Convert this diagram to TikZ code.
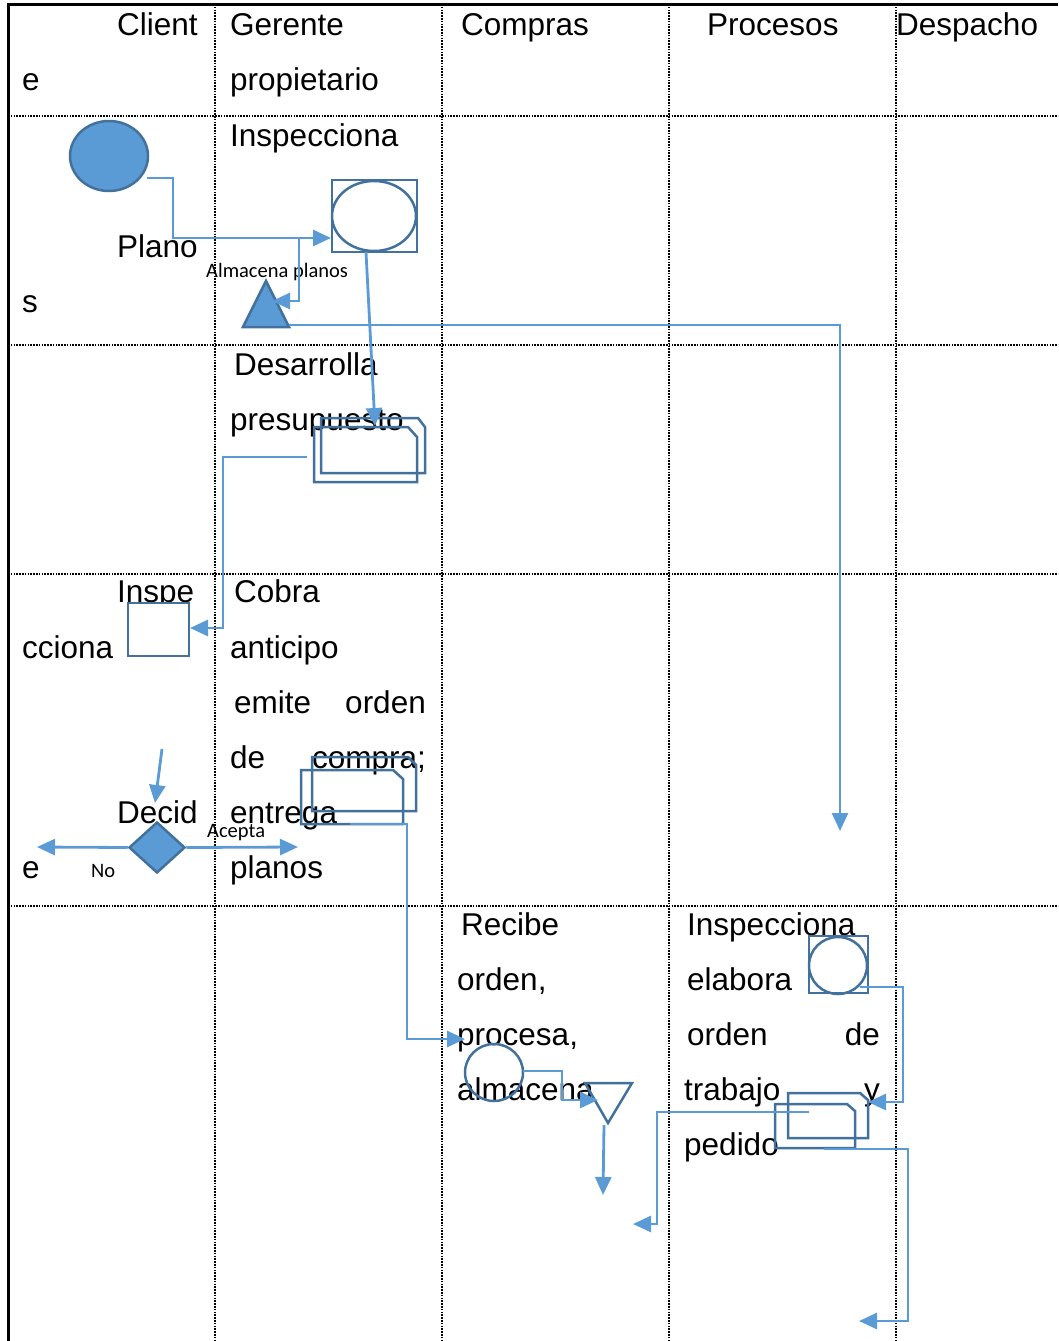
\documentclass[tikz,border=0pt]{standalone}
\usepackage{fontspec}
\setmainfont{Liberation Sans}
\newfontfamily\tagfont{Carlito}
\usetikzlibrary{arrows.meta,shapes.geometric}

\definecolor{flowblue}{HTML}{5B9BD5}
\definecolor{edgeblue}{HTML}{41719C}

\begin{document}
\begin{tikzpicture}[x=1pt,y=-1pt,
  lane/.style={line width=1.8pt, dash pattern=on 1.6pt off 1.2pt},
  frame/.style={line width=3pt},
  lbl/.style={anchor=base west, inner sep=0pt, font=\fontsize{31.5}{36}\selectfont},
  lblr/.style={anchor=base east, inner sep=0pt, font=\fontsize{31.5}{36}\selectfont},
  tag/.style={anchor=base west, inner sep=0pt, font=\tagfont\fontsize{20.5}{24}\selectfont},
  flow/.style={draw=flowblue, line width=2.8pt},
  arr/.style={flow, -{Triangle[length=18pt 0 0,width=16pt 0 0]}},
  shp/.style={draw=edgeblue, line width=2.5pt},
  shpfill/.style={shp, fill=flowblue},
]
\useasboundingbox (0,0) rectangle (1058,1341);

% swimlane grid
\foreach \x in {215,442,669,896} \draw[lane] (\x,4) -- (\x,1341);
\foreach \y in {116,345,574,906} \draw[lane] (8,\y) -- (1058,\y);
\draw[frame] (8,1341) -- (8,4) -- (1058,4);

% lane headers
\node[lbl] (hcli1) at (117,35) {Client};
\node[lbl] (hcli2) at (22,90) {e};
\node[lbl] (hger1) at (230,35) {Gerente};
\node[lbl] (hger2) at (230,90) {propietario};
\node[lbl] (hcom) at (461,35) {Compras};
\node[lbl] (hpro) at (707,35) {Procesos};
\node[lbl] (hdes) at (896,35) {Despacho};

% row 1 texts
\node[lbl] (t1a) at (230,146) {Inspecciona};
\node[lbl] (t1b) at (117,257) {Plano};
\node[lbl] (t1c) at (22,312) {s};
\node[tag] (almac) at (206,277) {Almacena planos};

% row 2 texts
\node[lbl] (t2a) at (234,375) {Desarrolla};
\node[lbl] (t2b) at (230,430) {presupuesto};

% row 3 texts
\node[lbl] (t3a) at (117,602) {Inspe};
\node[lbl] (t3b) at (22,658) {cciona};
\node[lbl] (t3c) at (117,823) {Decid};
\node[lbl] (t3d) at (22,878) {e};
\node[lbl] (t3e) at (234,602) {Cobra};
\node[lbl] (t3f) at (230,658) {anticipo};
\node[lbl] (t3g) at (234,713) {emite};
\node[lblr] (t3h) at (426,713) {orden};
\node[lbl] (t3i) at (230,768) {de};
\node[lblr] (t3j) at (426,768) {compra;};
\node[lbl] (t3k) at (230,823) {entrega};
\node[lbl] (t3l) at (230,878) {planos};
\node[tag] (acepta) at (207,837) {Acepta};
\node[tag] (no) at (91,877) {No};

% row 4 texts
\node[lbl] (t4a) at (461,935) {Recibe};
\node[lbl] (t4b) at (457,990) {orden,};
\node[lbl] (t4c) at (457,1045) {procesa,};
\node[lbl] (t4d) at (457,1100) {almacena};
\node[lbl] (t4e) at (687,935) {Inspecciona};
\node[lbl] (t4f) at (687,990) {elabora};
\node[lbl] (t4g) at (687,1045) {orden};
\node[lblr] (t4h) at (880,1045) {de};
\node[lbl] (t4i) at (684,1100) {trabajo};
\node[lblr] (t4j) at (880,1100) {y};
\node[lbl] (t4k) at (684,1155) {pedido};

% shapes
\node[shpfill, ellipse, minimum width=78pt, minimum height=70pt, inner sep=0pt] (start) at (109,156) {};
\node[shp, rectangle, minimum width=85pt, minimum height=72pt, inner sep=0pt] (insq) at (374.5,216) {};
\node[shp, ellipse, minimum width=84pt, minimum height=70pt, inner sep=0pt] (inel) at (374,216) {};
\draw[shpfill] (266,281) coordinate (storeTop) -- (289,327) coordinate (storeR) -- (243,327) -- cycle;

\draw[shp] (321,418) -- (418,418) -- (425,427) -- (425,473) -- (321,473) -- cycle;
\draw[shp] (314,427) -- (408,427) -- (417,437) -- (417,482) -- (314,482) -- cycle;

\node[shp, fill=white, rectangle, minimum width=61pt, minimum height=53pt, inner sep=0pt] (cinsp) at (158.5,629.5) {};
\node[shpfill, diamond, minimum width=56pt, minimum height=51pt, inner sep=0pt] (dec) at (157,847.5) {};

\draw[shp] (312,757) -- (408,757) -- (416,765) -- (416,811) -- (312,811) -- cycle;
\draw[shp] (301,770) -- (393,770) -- (403,779) -- (403,824) -- (301,824) -- cycle;

\node[shp, ellipse, minimum width=58pt, minimum height=57pt, inner sep=0pt] (cproc) at (494,1072.5) {};
\draw[shp] (585,1083) -- (632,1083) -- (608,1123) coordinate (invApex) -- cycle;

\node[shp, rectangle, minimum width=59pt, minimum height=57pt, inner sep=0pt] (psq) at (838.5,964.5) {};
\node[shp, ellipse, minimum width=58pt, minimum height=57pt, inner sep=0pt] (pel) at (838,965.5) {};
\draw[shp] (788,1093) -- (860,1093) -- (868,1100) -- (868,1138) -- (788,1138) -- cycle;
\draw[shp] (775,1104) -- (847,1104) -- (855,1111) -- (855,1148) -- (775,1148) -- cycle;

% connector end points
\coordinate (a1) at (147,178);
\coordinate (a1e) at (331,238);
\coordinate (a2) at (299,238);
\coordinate (a2e) at (272,301);
\coordinate (a3) at (289,325);
\coordinate (a3e) at (840,831);
\coordinate (a4) at (366,252);
\coordinate (a4e) at (375,426);
\coordinate (a5) at (307,457);
\coordinate (a5e) at (190,628);
\coordinate (a6) at (162,749);
\coordinate (a6e) at (155,803);
\coordinate (a7e) at (37,847);
\coordinate (a8e) at (298,847);
\coordinate (a9) at (350,824);
\coordinate (a9e) at (465,1039);
\coordinate (a10) at (523,1071);
\coordinate (a10e) at (598,1100);
\coordinate (a11) at (604,1125);
\coordinate (a11e) at (603,1195);
\coordinate (a12) at (860,987);
\coordinate (a12e) at (868,1102);
\coordinate (a13) at (809,1112);
\coordinate (a13e) at (633,1224);
\coordinate (a14) at (824,1149);
\coordinate (a14e) at (859,1321);

% connectors
\draw[arr] (a1) -- (173,178) -- (173,238) -- (a1e);
\draw[arr] (a2) -- (a2 |- a2e) -- (a2e);
\draw[arr] (a3) -- (a3e |- a3) -- (a3e);
\draw[arr] (a4) -- (a4e);
\draw[arr] (a5) -- (223,457) -- (223,628) -- (a5e);
\draw[arr] (a6) -- (a6e);
\draw[arr] (dec.west) -- (a7e);
\draw[arr] (dec.east) -- (a8e);
\draw[arr] (a9) -- (407,824) -- (407,1039) -- (a9e);
\draw[arr] (a10) -- (562,1071) -- (562,1100) -- (a10e);
\draw[arr] (a11) -- (a11e);
\draw[arr] (a12) -- (903,987) -- (903,1102) -- (a12e);
\draw[arr] (a13) -- (657,1112) -- (657,1224) -- (a13e);
\draw[arr] (a14) -- (908,1149) -- (908,1321) -- (a14e);
\end{tikzpicture}
\end{document}
